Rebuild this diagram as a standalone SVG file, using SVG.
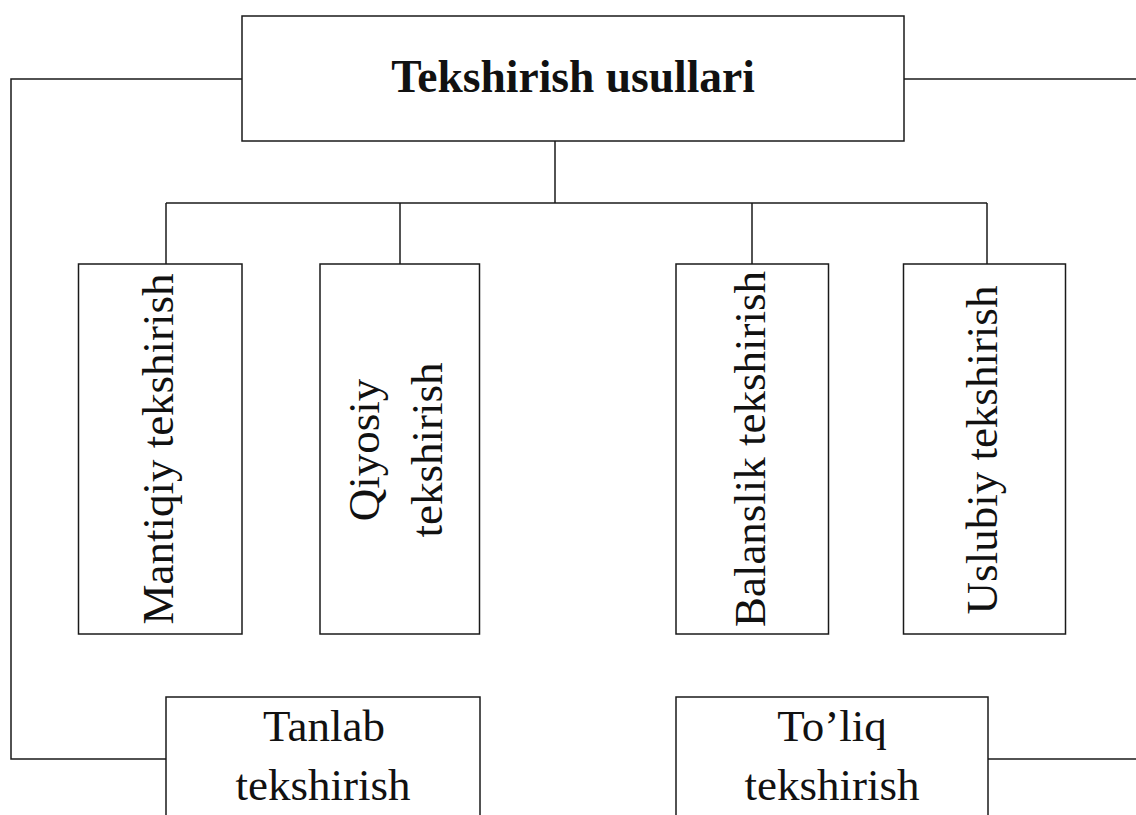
<svg xmlns="http://www.w3.org/2000/svg" width="1136" height="815" viewBox="0 0 1136 815">
<style>
.box{fill:#fff;stroke:#1a1a1a;stroke-width:1.5}
.ln{fill:none;stroke:#1a1a1a;stroke-width:1.5}
.t{font-family:"Liberation Serif","Times New Roman",serif;font-size:45px;fill:#111;text-anchor:middle}
.b{font-weight:bold;font-size:45.5px}
</style>
<rect width="1136" height="815" fill="#fff"/>
<g id="connectors">
<polyline class="ln" points="242,79 11,79 11,759 166,759"/>
<line class="ln" x1="904" y1="79" x2="1136" y2="79"/>
<line class="ln" x1="988" y1="759" x2="1136" y2="759"/>
<line class="ln" x1="555" y1="141" x2="555" y2="203"/>
<line class="ln" x1="166" y1="203" x2="987" y2="203"/>
<line class="ln" x1="166" y1="203" x2="166" y2="264"/>
<line class="ln" x1="400" y1="203" x2="400" y2="264"/>
<line class="ln" x1="752" y1="203" x2="752" y2="264"/>
<line class="ln" x1="987" y1="203" x2="987" y2="264"/>
</g>
<g id="root">
<rect class="box" x="242" y="16" width="662" height="125"/>
<text class="t b" x="573" y="92">Tekshirish usullari</text>
</g>
<g id="mantiqiy">
<rect class="box" x="78.5" y="264" width="163.5" height="370"/>
<text class="t" transform="translate(173,449) rotate(-90)">Mantiqiy tekshirish</text>
</g>
<g id="qiyosiy">
<rect class="box" x="320" y="264" width="159.5" height="370"/>
<text class="t" transform="translate(379,450) rotate(-90)">Qiyosiy</text>
<text class="t" transform="translate(442,450) rotate(-90)">tekshirish</text>
</g>
<g id="balanslik">
<rect class="box" x="676" y="264" width="152.5" height="370"/>
<text class="t" transform="translate(765,449) rotate(-90)">Balanslik tekshirish</text>
</g>
<g id="uslubiy">
<rect class="box" x="903.5" y="264" width="162" height="370"/>
<text class="t" transform="translate(997,450) rotate(-90)">Uslubiy tekshirish</text>
</g>
<g id="tanlab">
<rect class="box" x="166" y="697" width="314" height="140"/>
<text class="t" x="324" y="741">Tanlab</text>
<text class="t" x="323" y="800">tekshirish</text>
</g>
<g id="toliq">
<rect class="box" x="676" y="697" width="312" height="140"/>
<text class="t" x="832" y="741">To’liq</text>
<text class="t" x="832" y="800">tekshirish</text>
</g>
</svg>
